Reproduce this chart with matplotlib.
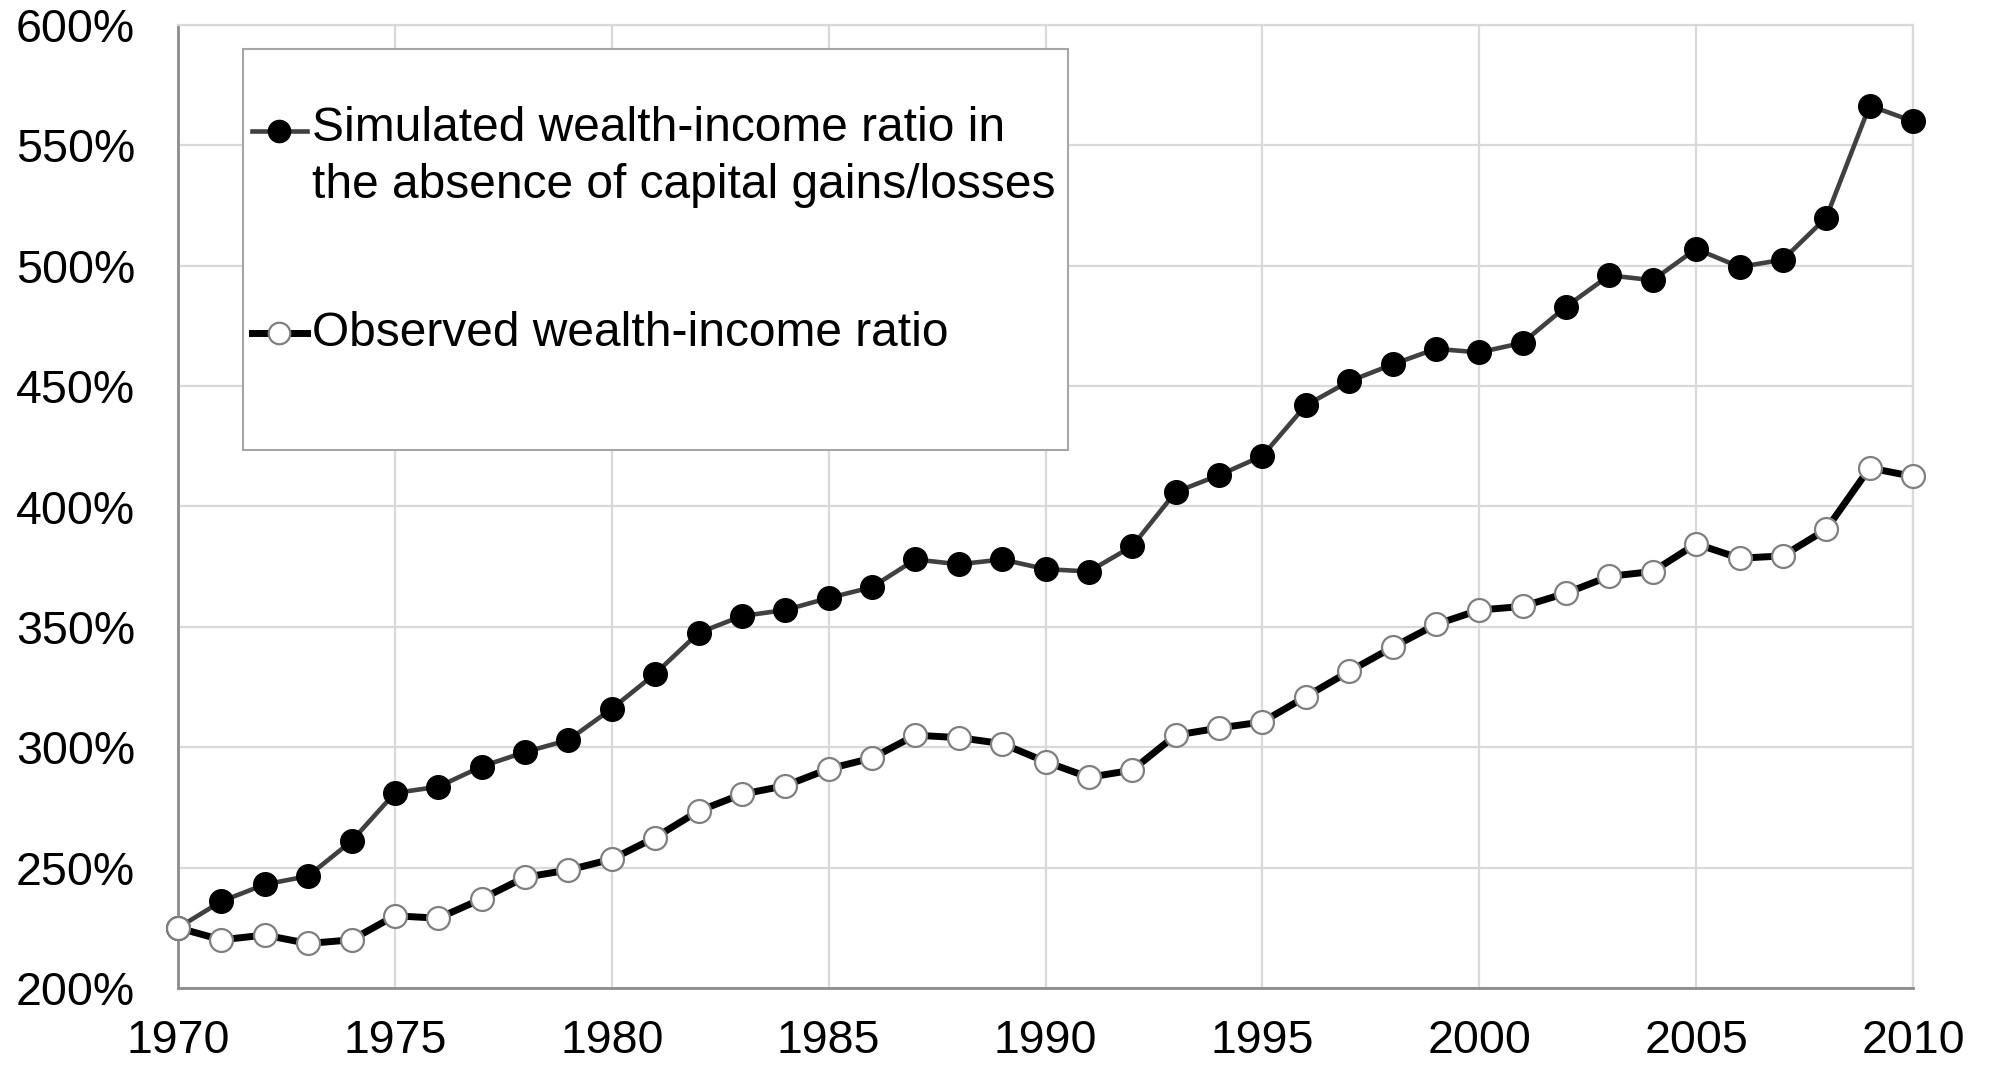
import matplotlib.pyplot as plt
from matplotlib.lines import Line2D
from matplotlib.patches import Rectangle
from matplotlib.ticker import FuncFormatter

plt.rcParams['font.family'] = ['Liberation Sans', 'DejaVu Sans']

# ----------- data
years = list(range(1970, 2011))
simulated = [225, 236, 243, 246.5, 261, 281, 283.6, 292, 298, 303,
             316, 330.5, 347.5, 354.5, 357, 362, 366.5, 378, 376, 378,
             374, 373, 383.5, 406, 413, 421, 442, 452, 459, 465.5,
             464, 468, 483, 496, 494, 507, 499.5, 502.5, 520, 566.5,
             560]
observed = [225, 220, 222, 218.5, 220, 230, 229, 237, 246, 249,
            253.5, 262.5, 273.5, 280.5, 284, 291, 295.5, 305, 304, 301.5,
            294, 287.5, 290.5, 305, 308, 310.5, 321, 331.5, 341.5, 351,
            357, 358.5, 364, 371, 373, 384.5, 378.5, 379.5, 390.5, 416,
            412.5]
label_sim = 'Simulated wealth-income ratio in\nthe absence of capital gains/losses'
label_obs = 'Observed wealth-income ratio'
x_ticks = list(range(1970, 2011, 5))
y_ticks = list(range(200, 601, 50))

# ----------- figure
fig = plt.figure(figsize=(19.91, 10.72), dpi=100)
ax = fig.add_axes([178 / 1991, 1 - 988 / 1072, 1735 / 1991, 963 / 1072])

grid_c = '#d9d9d9'
ax.set_xlim(1970, 2010)
ax.set_ylim(200, 600)
ax.set_xticks(x_ticks)
ax.set_yticks(y_ticks)
ax.yaxis.set_major_formatter(FuncFormatter(lambda v, p: '%d%%' % v))
ax.grid(True, color=grid_c, linewidth=1.6, zorder=0)
ax.set_axisbelow(True)
ax.tick_params(axis='both', length=0, labelsize=33.5)
ax.tick_params(axis='y', pad=31)
ax.tick_params(axis='x', pad=22)
for s in ['top', 'right']:
    ax.spines[s].set_color(grid_c)
    ax.spines[s].set_linewidth(1.6)
for s in ['left', 'bottom']:
    ax.spines[s].set_color('#8c8c8c')
    ax.spines[s].set_linewidth(2)

sim_style = dict(color='#404040', lw=3.3, marker='o', ms=17,
                 mfc='black', mec='black', mew=1)
obs_style = dict(color='black', lw=5, marker='o', ms=16.5,
                 mfc='white', mec='#7f7f7f', mew=1.6)

ax.plot(years, simulated, clip_on=False, zorder=3, **sim_style)
ax.plot(years, observed, clip_on=False, zorder=4, **obs_style)

# ----------- legend box (drawn by hand, Excel-like)
ax.add_patch(Rectangle((0.0375, 0.559), 0.4755, 0.416, transform=ax.transAxes,
                       facecolor='white', edgecolor='#a6a6a6', lw=1.5, zorder=5))
hx = [0.0427, 0.0744]
y1, y2 = 0.890, 0.680
ax.add_line(Line2D(hx, [y1, y1], transform=ax.transAxes, zorder=6,
                   markevery=[], **sim_style))
ax.plot([0.0585], [y1], transform=ax.transAxes, zorder=7, ls='none',
        marker='o', ms=16, mfc='black', mec='black')
ax.add_line(Line2D(hx, [y2, y2], transform=ax.transAxes, zorder=6,
                   markevery=[], **obs_style))
ax.plot([0.0585], [y2], transform=ax.transAxes, zorder=7, ls='none',
        marker='o', ms=15.5, mfc='white', mec='#7f7f7f', mew=1.6)
ax.text(0.0772, y1 + 0.026, label_sim, transform=ax.transAxes, fontsize=34.5,
        va='top', ha='left', linespacing=1.36, zorder=8)
ax.text(0.0772, y2, label_obs, transform=ax.transAxes, fontsize=34.5,
        va='center', ha='left', zorder=8)

fig.savefig('out.png', dpi=100)
